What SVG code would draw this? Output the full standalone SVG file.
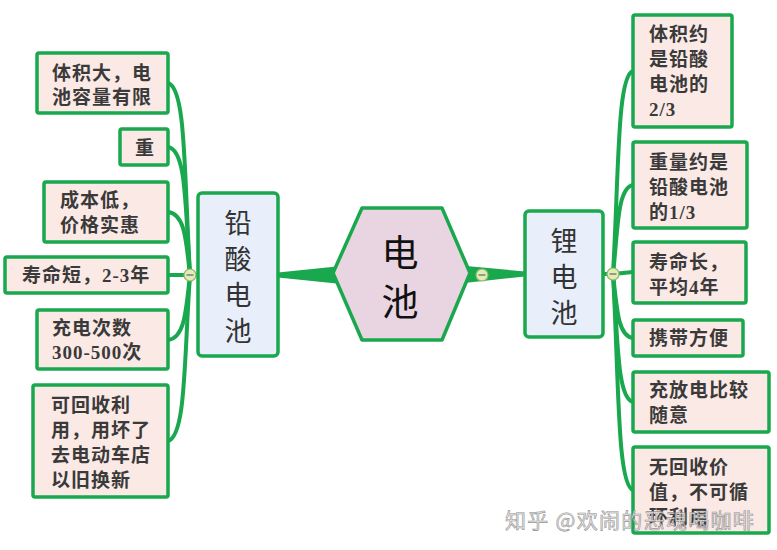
<svg xmlns="http://www.w3.org/2000/svg" width="777" height="550" viewBox="0 0 777 550">
<style>
.leaf rect{fill:#fbe9e5;stroke:#1aa84e;stroke-width:3.5}
.main rect{fill:#e9eefb;stroke:#1aa84e;stroke-width:3.5}
.lt{font-family:"Liberation Serif","Noto Sans CJK SC",serif;font-weight:bold;font-size:19px;letter-spacing:1px;fill:#3a3a3a}
.mt{font-family:"Noto Sans CJK SC","Noto Sans",sans-serif;font-size:27px;fill:#333;writing-mode:vertical-rl;letter-spacing:9px}
.ct{font-family:"Noto Sans CJK SC","Noto Sans",sans-serif;font-size:37px;fill:#111;writing-mode:vertical-rl;letter-spacing:12px}
.c path{fill:none;stroke:#1aa84e;stroke-width:4;stroke-linecap:round}
.tg circle{fill:#e2ecb4;stroke:#8cbc6c;stroke-width:1.2}
.tg line{stroke:#667;stroke-width:1.2}
.wm{font-family:"Noto Sans CJK SC",sans-serif;font-size:21px;letter-spacing:1.3px;fill:#e6e6e6;stroke:#8a8a8a;stroke-width:0.6;opacity:0.9}
</style>
<rect width="777" height="550" fill="#fff"/>
<g id="connectors" class="c">
<polygon points="400,260 400,290 278,277.5 278,272.5" fill="#1aa84e"/>
<polygon points="400,260 400,290 525,276.5 525,271.5" fill="#1aa84e"/>
<path d="M198,275 L190,275"/>
<path d="M190,275 C184,170 186,88 168,83"/>
<path d="M190,275 C185,200 186,150 168,147"/>
<path d="M190,275 C186,240 185,214 168,212"/>
<path d="M190,275 L168,275"/>
<path d="M190,275 C186,310 185,338 168,340"/>
<path d="M190,275 C184,360 186,436 168,441"/>
<path d="M603,274 L613,274"/>
<path d="M613,274 C619,170 617,76 633,71"/>
<path d="M613,274 C618,230 617,188 633,185"/>
<path d="M613,274 L633,272"/>
<path d="M613,274 C617,310 618,336 633,338"/>
<path d="M613,274 C618,340 617,398 633,402"/>
<path d="M613,274 C619,380 617,485 633,490"/>
</g>
<g id="center">
<polygon points="333,273 362,208 442,208 470,273 442,340 362,340" fill="#e9d5e1" stroke="#1aa84e" stroke-width="3.5" stroke-linejoin="round"/>
<text class="ct" x="400" y="234.5">电池</text>
</g>
<g id="lead-acid" class="main">
<rect x="198" y="193" width="80" height="163" rx="4"/>
<text class="mt" x="238" y="209.5">铅酸电池</text>
</g>
<g id="lithium" class="main">
<rect x="525" y="211" width="78" height="126" rx="4"/>
<text class="mt" x="564" y="227.5">锂电池</text>
</g>
<g id="l1" class="leaf"><rect x="37" y="53" width="131" height="60" rx="2"/>
<text class="lt" x="52" y="80">体积大，电</text><text class="lt" x="52" y="104">池容量有限</text></g>
<g id="l2" class="leaf"><rect x="120" y="129" width="48" height="36" rx="2"/>
<text class="lt" x="145" y="155" text-anchor="middle">重</text></g>
<g id="l3" class="leaf"><rect x="44" y="182" width="124" height="60" rx="2"/>
<text class="lt" x="60" y="207">成本低，</text><text class="lt" x="60" y="232">价格实惠</text></g>
<g id="l4" class="leaf"><rect x="5" y="257" width="163" height="36" rx="2"/>
<text class="lt" x="22" y="282">寿命短，2-3年</text></g>
<g id="l5" class="leaf"><rect x="37" y="310" width="131" height="59" rx="2"/>
<text class="lt" x="52" y="335">充电次数</text><text class="lt" x="52" y="359">300-500次</text></g>
<g id="l6" class="leaf"><rect x="33" y="385" width="135" height="112" rx="2"/>
<text class="lt" x="51" y="412">可回收利</text><text class="lt" x="51" y="437">用，用坏了</text><text class="lt" x="51" y="462">去电动车店</text><text class="lt" x="51" y="487">以旧换新</text></g>
<g id="r1" class="leaf"><rect x="633" y="15" width="99" height="112" rx="2"/>
<text class="lt" x="649" y="41">体积约</text><text class="lt" x="649" y="66">是铅酸</text><text class="lt" x="649" y="91">电池的</text><text class="lt" x="649" y="116">2/3</text></g>
<g id="r2" class="leaf"><rect x="633" y="142" width="114" height="86" rx="2"/>
<text class="lt" x="649" y="169">重量约是</text><text class="lt" x="649" y="194">铅酸电池</text><text class="lt" x="649" y="219">的1/3</text></g>
<g id="r3" class="leaf"><rect x="633" y="242" width="113" height="61" rx="2"/>
<text class="lt" x="649" y="269">寿命长，</text><text class="lt" x="649" y="294">平均4年</text></g>
<g id="r4" class="leaf"><rect x="633" y="320" width="110" height="36" rx="2"/>
<text class="lt" x="649" y="345">携带方便</text></g>
<g id="r5" class="leaf"><rect x="633" y="372" width="136" height="60" rx="2"/>
<text class="lt" x="649" y="397">充放电比较</text><text class="lt" x="649" y="422">随意</text></g>
<g id="r6" class="leaf"><rect x="633" y="447" width="136" height="86" rx="2"/>
<text class="lt" x="649" y="474">无回收价</text><text class="lt" x="649" y="499">值，不可循</text><text class="lt" x="649" y="524">环利用</text></g>
<g id="toggles" class="tg">
<circle cx="190" cy="275" r="6"/><line x1="186.5" y1="275" x2="193.5" y2="275"/>
<circle cx="482" cy="275" r="6"/><line x1="478.5" y1="275" x2="485.5" y2="275"/>
<circle cx="613" cy="274" r="6"/><line x1="609.5" y1="274" x2="616.5" y2="274"/>
</g>
<text id="watermark" class="wm" x="505" y="528">知乎 @欢闹的恶魂喝咖啡</text>
</svg>
